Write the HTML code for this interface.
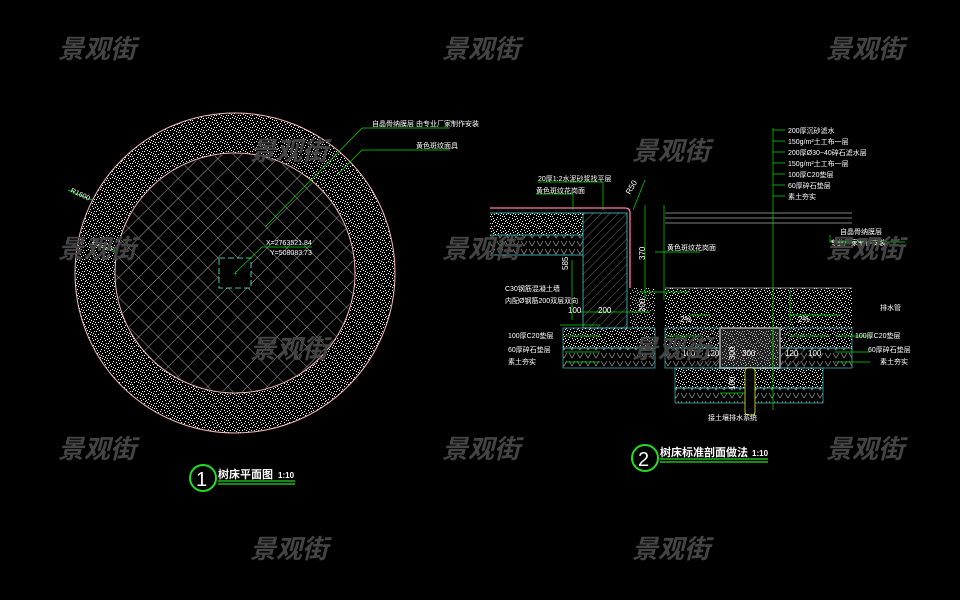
<!DOCTYPE html>
<html><head><meta charset="utf-8"><style>
html,body{margin:0;padding:0;background:#000;width:960px;height:600px;overflow:hidden}
svg{display:block}
.wm{font-family:"Liberation Sans","Noto Sans CJK SC",sans-serif;font-size:26px;font-style:italic;font-weight:bold;fill:#444}
.t{font-family:"Liberation Sans","Noto Sans CJK SC",sans-serif;font-size:7px;fill:#fff}
.d{font-family:"Liberation Sans",sans-serif;font-size:8px;fill:#fff}
</style></head><body>
<svg width="960" height="600" viewBox="0 0 960 600" xmlns="http://www.w3.org/2000/svg">
<defs>
<pattern id="sp" width="12" height="12" patternUnits="userSpaceOnUse">
<rect x="1" y="2" width="1" height="1" fill="#fff"/><rect x="5" y="1" width="1" height="1" fill="#fff"/><rect x="9" y="4" width="1" height="1" fill="#fff"/><rect x="3" y="6" width="1" height="1" fill="#fff"/><rect x="7" y="8" width="1" height="1" fill="#fff"/><rect x="11" y="10" width="1" height="1" fill="#fff"/><rect x="2" y="10" width="1" height="1" fill="#fff"/><rect x="6" y="5" width="1" height="1" fill="#fff"/><rect x="10" y="0" width="1" height="1" fill="#fff"/><rect x="4" y="9" width="1" height="1" fill="#fff"/><rect x="0" y="7" width="1" height="1" fill="#fff"/><rect x="8" y="11" width="1" height="1" fill="#fff"/><rect x="10" y="7" width="1" height="1" fill="#ddd"/><rect x="2" y="4" width="1" height="1" fill="#ddd"/>
<rect x="4" y="3" width="1" height="1" fill="#fff"/><rect x="8" y="2" width="1" height="1" fill="#fff"/><rect x="0" y="0" width="1" height="1" fill="#fff"/><rect x="6" y="10" width="1" height="1" fill="#fff"/><rect x="9" y="9" width="1" height="1" fill="#fff"/><rect x="1" y="5" width="1" height="1" fill="#fff"/><rect x="11" y="3" width="1" height="1" fill="#fff"/><rect x="5" y="7" width="1" height="1" fill="#fff"/>
</pattern>
<pattern id="gs" width="10" height="10" patternUnits="userSpaceOnUse">
<rect x="1" y="2" width="1" height="1" fill="#aaa"/><rect x="6" y="1" width="1" height="1" fill="#aaa"/><rect x="4" y="6" width="1" height="1" fill="#aaa"/><rect x="8" y="8" width="1" height="1" fill="#aaa"/><rect x="2" y="8" width="1" height="1" fill="#aaa"/>
</pattern>
<pattern id="xh" width="14" height="14" patternUnits="userSpaceOnUse" patternTransform="rotate(45)">
<path d="M0 0H14M0 0V14" stroke="#ccc" stroke-width="0.8"/>
</pattern>
<pattern id="hh" width="6" height="6" patternUnits="userSpaceOnUse" patternTransform="rotate(45)">
<path d="M0 0V6" stroke="#999" stroke-width="0.7"/>
</pattern>
<pattern id="tri" width="8" height="8" patternUnits="userSpaceOnUse">
<path d="M1 1L4 6L7 1" fill="none" stroke="#aaa" stroke-width="0.6"/>
</pattern>
</defs>

<circle cx="235" cy="273" r="160" fill="url(#sp)" stroke="#f4b8b8" stroke-width="1"/>
<circle cx="235" cy="273" r="120" fill="#000" stroke="#f4b8b8" stroke-width="1"/>
<circle cx="235" cy="273" r="119" fill="url(#xh)"/>
<rect x="219" y="258" width="32" height="30" fill="#000" stroke="#5fd" stroke-width="0.8" stroke-dasharray="6 3"/>
<text x="233" y="276" fill="#0f0" font-size="8">+</text>
<path d="M235 273L262 247H312" stroke="#0d0" fill="none" stroke-width="0.7"/>
<text class="t" x="266" y="245">X=2763521.84</text><text class="t" x="270" y="255">Y=508083.73</text>
<path d="M265 227L362 128H450M337 175L362 150H450" stroke="#0d0" fill="none" stroke-width="0.7"/>
<text class="t" x="372" y="126">自晶骨纳膜层 由专业厂家制作安装</text>
<text class="t" x="416" y="148">黄色斑纹面具</text>
<path d="M68 190L92 200M92 244L115 252" stroke="#0d0" stroke-width="0.7"/>
<text class="t" x="70" y="192" transform="rotate(25 70 192)">R1600</text>
<text class="t" x="92" y="244" transform="rotate(20 92 244)">R1200</text>
<circle cx="203" cy="478" r="13" fill="none" stroke="#2d2" stroke-width="2"/>
<text x="196" y="486" fill="#fff" font-size="20" font-family="Liberation Sans">1</text>
<text x="218" y="478" fill="#fff" font-size="11" font-weight="bold" font-family="Liberation Sans,Noto Sans CJK SC,sans-serif">树床平面图</text>
<text x="278" y="478" fill="#fff" font-size="8" font-weight="bold" font-family="Liberation Sans">1:10</text>
<path d="M218 481H295M218 484H295" stroke="#2d2" stroke-width="1.2"/>

<rect x="490" y="213" width="93" height="22" fill="url(#sp)"/>
<rect x="490" y="235" width="93" height="20" fill="url(#tri)"/>
<path d="M490 213H583M490 235H583M490 255H583" stroke="#5dd" stroke-width="0.7"/>
<rect x="583" y="213" width="44" height="115" fill="url(#hh)" stroke="#5dd" stroke-width="0.7"/>
<path d="M490 208H625Q630 208 630 213V288" stroke="#f7a" stroke-width="1.3" fill="none"/>
<rect x="630" y="288" width="25" height="40" fill="url(#sp)" opacity="0.8"/>
<rect x="563" y="328" width="92" height="20" fill="url(#sp)" stroke="#5dd" stroke-width="0.6"/>
<rect x="563" y="348" width="92" height="20" fill="url(#tri)" stroke="#5dd" stroke-width="0.6"/>
<path d="M665 213H852M665 218H852M665 223H852" stroke="#aaa" stroke-width="0.7"/>
<rect x="665" y="288" width="187" height="40" fill="url(#sp)"/>
<path d="M665 288H852" stroke="#bbb" stroke-width="0.7"/>
<rect x="665" y="328" width="187" height="20" fill="url(#sp)" stroke="#5dd" stroke-width="0.6"/>
<rect x="665" y="348" width="187" height="20" fill="url(#tri)" stroke="#5dd" stroke-width="0.6"/>
<rect x="695" y="328" width="25" height="40" fill="url(#hh)"/>
<rect x="780" y="328" width="25" height="40" fill="url(#hh)"/>
<rect x="720" y="328" width="60" height="40" fill="#222" stroke="#888" stroke-width="2"/>
<rect x="722" y="330" width="56" height="36" fill="url(#sp)" opacity="0.7"/>
<rect x="675" y="368" width="148" height="20" fill="url(#sp)" stroke="#5dd" stroke-width="0.6"/>
<rect x="675" y="388" width="148" height="15" fill="url(#tri)" stroke="#5dd" stroke-width="0.6"/>
<rect x="745" y="368" width="10" height="47" rx="3" fill="#000" stroke="#ee3" stroke-width="0.8"/>
<g stroke="#0d0" stroke-width="0.7" fill="none">
<path d="M773 128V410M773 130H785M773 141H785M773 152H785M773 163H785M773 174H785M773 185H785M773 196H785"/>
<path d="M645 205V300M664 205V300M572 260V320M538 182H603V210M536 194H573V210M633 210L645 180"/>
<path d="M655 252H700M830 235V242H905M640 292H690M580 312H650M560 325H600"/>
<path d="M565 336H600M565 352H600M565 362H600M870 336H835M870 352H835M870 362H835M720 393H745"/>
<path d="M665 336H700M790 336H830M690 315H710M790 315H840M790 322V290"/>
</g>
<g class="t">
<text x="788" y="133">200厚沉砂滤水</text><text x="788" y="144">150g/m²土工布一层</text><text x="788" y="155">200厚Ø30~40碎石滤水层</text><text x="788" y="166">150g/m²土工布一层</text><text x="788" y="177">100厚C20垫层</text><text x="788" y="188">60厚碎石垫层</text><text x="788" y="199">素土夯实</text>
<text x="538" y="181">20厚1:2水泥砂浆找平层</text><text x="536" y="193">黄色斑纹花岗面</text>
<text x="667" y="250">黄色斑纹花岗面</text>
<text x="840" y="234">自晶骨纳膜层</text><text x="830" y="245">专业厂家制作安装</text>
<text x="505" y="291">C30钢筋混凝土墙</text><text x="505" y="303">内配Ø钢筋200双层双向</text>
<text x="508" y="338">100厚C20垫层</text><text x="508" y="352">60厚碎石垫层</text><text x="508" y="364">素土夯实</text>
<text x="855" y="338">100厚C20垫层</text><text x="868" y="352">60厚碎石垫层</text><text x="880" y="364">素土夯实</text>
<text x="880" y="310">排水管</text>
<text x="708" y="420">接土壤排水系统</text>
</g>
<g class="d">
<text x="568" y="313">100</text><text x="598" y="313">200</text><text x="680" y="322">2%</text><text x="798" y="322">2%</text>
<text x="682" y="356">100</text><text x="706" y="356">120</text><text x="742" y="356">300</text><text x="785" y="356">120</text><text x="808" y="356">100</text>
<text x="568" y="270" transform="rotate(-90 568 270)">585</text>
<text x="645" y="260" transform="rotate(-90 645 260)">370</text>
<text x="645" y="312" transform="rotate(-90 645 312)">200</text>
<text x="735" y="360" transform="rotate(-90 735 360)">300</text>
<text x="735" y="390" transform="rotate(-90 735 390)">100</text>
<text x="630" y="195" transform="rotate(-60 630 195)">R50</text>
</g>
<circle cx="645" cy="458" r="13" fill="none" stroke="#2d2" stroke-width="2"/>
<text x="638" y="466" fill="#fff" font-size="20" font-family="Liberation Sans">2</text>
<text x="660" y="456" fill="#fff" font-size="11" font-weight="bold" font-family="Liberation Sans,Noto Sans CJK SC,sans-serif">树床标准剖面做法</text>
<text x="752" y="456" fill="#fff" font-size="8" font-weight="bold" font-family="Liberation Sans">1:10</text>
<path d="M660 459H768M660 462H768" stroke="#2d2" stroke-width="1.2"/>

<g class="wm">
<text x="58" y="58">景观街</text><text x="442" y="58">景观街</text><text x="826" y="58">景观街</text>
<text x="632" y="160">景观街</text><text x="250" y="160">景观街</text>
<text x="58" y="258">景观街</text><text x="442" y="258">景观街</text><text x="826" y="258">景观街</text>
<text x="250" y="358">景观街</text><text x="632" y="358">景观街</text>
<text x="58" y="458">景观街</text><text x="442" y="458">景观街</text><text x="826" y="458">景观街</text>
<text x="250" y="558">景观街</text><text x="632" y="558">景观街</text>
</g>
</svg>
</body></html>
